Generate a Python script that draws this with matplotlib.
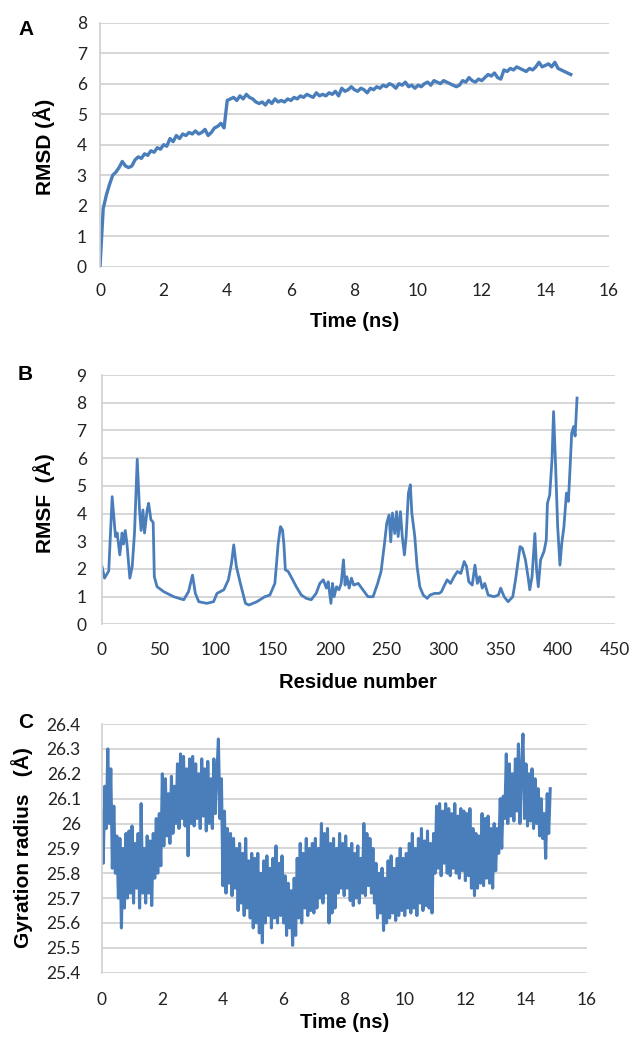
import numpy as np
import matplotlib
matplotlib.use("Agg")
import matplotlib.pyplot as plt
from matplotlib.ticker import FuncFormatter

# ---- Panel A: RMSD vs time (0.1 ns sampling) ----
rmsd_step = 0.1
rmsd_values = """
0.00 1.90 2.35 2.70 3.00 3.10 3.25 3.45 3.30 3.25
3.30 3.50 3.60 3.55 3.70 3.65 3.80 3.75 3.90 3.85
4.00 3.95 4.20 4.10 4.30 4.20 4.35 4.30 4.40 4.35
4.45 4.35 4.40 4.50 4.30 4.40 4.55 4.60 4.70 4.55
5.45 5.50 5.55 5.45 5.60 5.50 5.65 5.55 5.50 5.40
5.35 5.40 5.30 5.45 5.35 5.50 5.40 5.45 5.40 5.50
5.45 5.55 5.50 5.60 5.55 5.65 5.60 5.55 5.70 5.60
5.65 5.60 5.70 5.65 5.75 5.60 5.85 5.75 5.80 5.90
5.80 5.75 5.85 5.80 5.70 5.85 5.80 5.90 5.85 5.95
5.90 6.00 5.95 5.85 6.00 5.95 6.05 5.90 5.95 5.85
5.95 5.90 6.00 6.05 5.95 6.10 6.05 6.00 6.10 6.05
6.00 5.95 5.90 5.95 6.10 6.05 6.20 6.10 6.05 6.15
6.10 6.20 6.30 6.25 6.35 6.20 6.15 6.45 6.40 6.50
6.45 6.55 6.50 6.45 6.40 6.50 6.45 6.55 6.70 6.55
6.60 6.65 6.55 6.70 6.50 6.45 6.40 6.35 6.30
"""

# ---- Panel B: RMSF per residue ----
rmsf_residue = [
    0, 2.3, 6, 9, 11.9, 13.4, 15.7, 17.7, 19, 20.5, 22, 24.5, 26.6, 28.6, 31, 33,
    34.4, 36, 37.4, 39.7, 41, 43, 45, 46, 48.4, 54.3, 63, 71.8, 76, 79.5, 82, 85,
    92, 98, 101, 107, 111, 113.7, 115.7, 118, 121.5, 126, 129, 136, 143, 147.4,
    151.8, 154.7, 156.7, 158.5, 159.7, 161, 163.5, 166, 170.6, 175, 179.4, 183.7,
    188, 191.3, 194.3, 197, 198.6, 201, 202.4, 203.8, 205.9, 208, 210, 212, 213.4,
    215, 217, 219, 221, 225, 229, 233.5, 238, 242, 245, 248, 250, 252, 253.5, 255,
    257, 258.6, 260, 262, 263.6, 265.5, 267, 269, 270.7, 272, 274.6, 276.6, 279,
    282, 285.5, 288, 292, 296, 298, 300, 303, 306, 309, 312, 315, 318, 320, 322,
    325, 327.4, 329.5, 331.5, 333.8, 336, 339, 344, 348, 350, 353, 356.5, 360.6,
    363, 365, 367, 369, 371.7, 374, 375.5, 377.5, 380, 381.5, 383, 385, 388, 390,
    391, 393, 395, 396.4, 398, 400, 402, 403.6, 405.5, 407.7, 409.4, 410.8, 412.3,
    414, 415.3, 417,
]
rmsf_values = [
    2.10, 1.67, 1.93, 4.61, 3.17, 3.30, 2.51, 3.30, 2.90, 3.39, 2.90, 1.67, 2.09,
    3.30, 5.96, 4.13, 3.39, 4.13, 3.30, 4.13, 4.37, 3.78, 3.68, 1.72, 1.36, 1.18,
    1.00, 0.89, 1.18, 1.78, 1.12, 0.82, 0.76, 0.82, 1.12, 1.25, 1.61, 2.20, 2.87,
    2.09, 1.48, 0.76, 0.70, 0.82, 1.00, 1.06, 1.48, 2.92, 3.53, 3.41, 2.90, 1.97,
    1.91, 1.72, 1.36, 1.06, 0.94, 0.89, 1.12, 1.48, 1.61, 1.31, 1.54, 0.76, 1.48,
    1.00, 1.36, 1.25, 1.48, 2.33, 1.42, 1.72, 1.31, 1.67, 1.42, 1.48, 1.25, 1.00,
    1.00, 1.48, 1.91, 2.92, 3.66, 3.95, 2.98, 4.02, 3.28, 4.07, 3.17, 4.07, 3.17,
    2.51, 3.17, 4.74, 5.04, 4.02, 3.17, 2.09, 1.36, 1.06, 0.94, 1.06, 1.12, 1.12,
    1.18, 1.36, 1.61, 1.48, 1.72, 1.91, 1.84, 2.27, 2.09, 1.54, 1.42, 2.14, 1.48,
    1.72, 1.31, 1.48, 1.06, 1.00, 1.06, 1.31, 1.00, 0.82, 1.00, 1.61, 2.20, 2.81,
    2.75, 2.33, 1.72, 1.25, 1.72, 3.28, 1.97, 1.36, 2.33, 2.63, 3.05, 4.37, 4.67,
    5.93, 7.68, 5.93, 3.53, 2.14, 2.92, 3.53, 4.74, 4.44, 5.58, 6.90, 7.14, 6.80,
    8.17,
]

# ---- Panel C: radius of gyration vs time (0.05 ns sampling) ----
rg_step = 0.05
rg_values = """
26.05 25.84 26.15 25.98 26.30 26.00 26.22 25.82 26.07 25.80 25.95 25.70 25.94 25.58 25.90 25.66 25.96 25.70 25.97 25.72
25.99 25.68 25.92 25.74 25.96 25.66 26.08 25.72 25.90 25.68 25.95 25.72 25.93 25.67 25.96 25.78 26.02 25.80 26.04 25.83
26.20 25.91 26.18 25.95 26.12 25.92 26.19 25.96 26.15 26.00 26.24 25.98 26.28 26.02 26.27 25.99 26.22 25.87 26.26 26.00
26.27 25.99 26.24 26.02 26.20 25.98 26.26 26.03 26.22 25.97 26.25 26.00 26.18 25.98 26.26 26.04 26.20 26.34 26.02 26.18
25.75 26.05 25.72 25.98 25.76 25.96 25.71 25.94 25.74 25.90 25.65 25.92 25.68 25.88 25.63 25.94 25.66 25.85 25.62 25.88
25.58 25.86 25.60 25.88 25.56 25.80 25.52 25.85 25.60 25.87 25.63 25.82 25.58 25.86 25.62 25.91 25.60 25.84 25.63 25.87
25.60 25.79 25.55 25.76 25.58 25.73 25.51 25.78 25.55 25.86 25.62 25.92 25.60 25.88 25.66 25.94 25.63 25.90 25.65 25.92
25.64 25.94 25.66 25.90 25.70 26.00 25.68 25.96 25.72 25.98 25.60 25.92 25.64 25.94 25.66 25.90 25.72 25.96 25.74 25.92
25.71 25.95 25.74 25.90 25.69 25.92 25.67 25.88 25.70 25.91 25.68 25.86 25.72 26.00 25.71 25.96 25.75 25.94 25.72 25.90
25.68 25.84 25.62 25.80 25.64 25.82 25.57 25.78 25.60 25.85 25.62 25.87 25.64 25.82 25.61 25.86 25.63 25.90 25.65 25.86
25.63 25.88 25.66 25.92 25.64 25.96 25.66 25.90 25.63 25.94 25.68 25.98 25.65 25.93 25.67 25.97 25.66 25.92 25.64 25.96
25.80 26.07 25.82 26.08 25.79 26.05 25.84 26.08 25.80 26.06 25.79 26.04 25.82 26.08 25.80 26.03 25.78 26.06 25.81 26.05
25.77 26.04 25.79 26.06 25.74 25.98 25.71 25.96 25.74 25.95 25.76 26.04 25.75 26.02 25.78 26.03 25.76 25.98 25.74 26.00
25.81 25.98 25.88 26.10 25.90 26.11 26.02 26.28 26.00 26.24 26.03 26.20 26.01 26.26 26.05 26.32 26.00 26.22 26.36 26.02
26.24 25.99 26.20 26.01 26.22 25.98 26.18 26.00 26.14 25.95 26.10 25.94 26.04 25.86 26.12 25.96 26.14
"""

rmsd = np.array(rmsd_values.split(), dtype=float)
rmsd_t = np.arange(len(rmsd)) * rmsd_step
rg = np.array(rg_values.split(), dtype=float)
rg_t = np.arange(len(rg)) * rg_step

line_color = "#4A7EBB"
grid_color = "#D0D0D0"
tick_font = ["Lato", "DejaVu Sans"]
label_font = ["Liberation Sans", "DejaVu Sans"]

fig = plt.figure(figsize=(6.33, 10.40), dpi=100)
fig.patch.set_facecolor("white")


def style_axes(ax, xticks, yticks, xpad, ypad):
    for side in ["top", "right", "bottom"]:
        ax.spines[side].set_visible(False)
    ax.spines["left"].set_color(grid_color)
    ax.spines["left"].set_linewidth(1.2)
    ax.set_xticks(xticks)
    ax.set_yticks(yticks)
    ax.yaxis.set_major_formatter(FuncFormatter(lambda v, p: f"{v:g}"))
    ax.tick_params(axis="both", length=0, labelsize=12.5, labelcolor="#222222")
    ax.tick_params(axis="x", pad=xpad)
    ax.tick_params(axis="y", pad=ypad)
    for lab in ax.get_xticklabels() + ax.get_yticklabels():
        lab.set_family(tick_font)
    ax.grid(axis="y", color=grid_color, linewidth=1.2)
    ax.set_axisbelow(True)


# Panel A
axA = fig.add_axes([0.158, 0.7436, 0.804, 0.2346])
axA.plot(rmsd_t, rmsd, color=line_color, linewidth=2.4)
axA.set_xlim(0, 16)
axA.set_ylim(0, 8)
style_axes(axA, np.arange(0, 17, 2), np.arange(0, 9, 1), 11.5, 9.5)
axA.set_xlabel("Time (ns)", fontsize=14.5, fontweight="bold", family=label_font)
axA.set_ylabel("RMSD (Å)", fontsize=15, fontweight="bold", family=label_font)
axA.xaxis.set_label_coords(0.5, -0.186)
axA.yaxis.set_label_coords(-0.088, 0.49)
fig.text(26 / 633, 1 - 29.5 / 1040, "A", fontsize=15, fontweight="bold",
         family=label_font, ha="center", va="center")

# Panel B
axB = fig.add_axes([0.161, 0.3996, 0.810, 0.2398])
axB.plot(rmsf_residue, rmsf_values, color=line_color, linewidth=2.0)
axB.set_xlim(0, 450)
axB.set_ylim(0, 9)
style_axes(axB, np.arange(0, 451, 50), np.arange(0, 10, 1), 13, 11)
axB.set_xlabel("Residue number", fontsize=14.5, fontweight="bold", family=label_font)
axB.set_ylabel("RMSF  (Å)", fontsize=15, fontweight="bold", family=label_font)
axB.xaxis.set_label_coords(0.5, -0.195)
axB.yaxis.set_label_coords(-0.092, 0.487)
fig.text(25 / 633, 1 - 375 / 1040, "B", fontsize=15, fontweight="bold",
         family=label_font, ha="center", va="center")

# Panel C
axC = fig.add_axes([0.1607, 0.0647, 0.766, 0.2391])
axC.plot(rg_t, rg, color=line_color, linewidth=2.2)
axC.set_xlim(0, 16)
axC.set_ylim(25.4, 26.4)
style_axes(axC, np.arange(0, 17, 2), np.round(np.arange(25.4, 26.41, 0.1), 1), 14, 15)
axC.set_xlabel("Time (ns)", fontsize=14.5, fontweight="bold", family=label_font)
axC.set_ylabel("Gyration radius   (Å)", fontsize=15, fontweight="bold", family=label_font)
axC.xaxis.set_label_coords(0.5, -0.162)
axC.yaxis.set_label_coords(-0.142, 0.503)
fig.text(25.5 / 633, 1 - 722.5 / 1040, "C", fontsize=15, fontweight="bold",
         family=label_font, ha="center", va="center")

fig.savefig("out.png", dpi=100, facecolor="white")
